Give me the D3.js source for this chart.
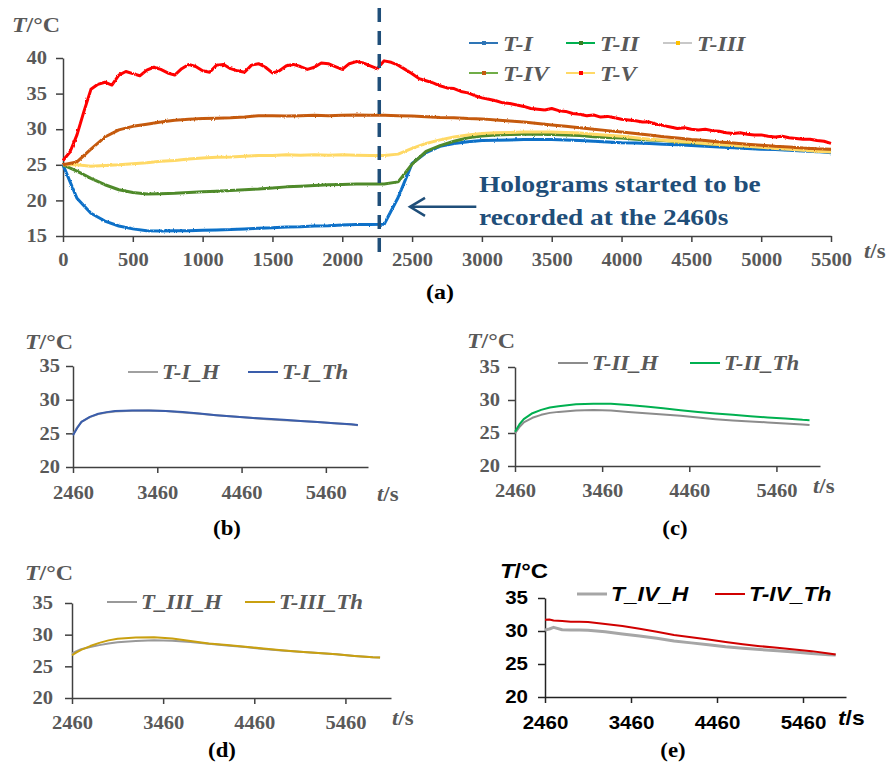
<!DOCTYPE html>
<html>
<head>
<meta charset="utf-8">
<script src="https://cdn.jsdelivr.net/npm/d3@7"></script>
<style>
  body { margin: 0; background: #fff; }
  svg { display: block; }
</style>
</head>
<body>
<svg width="888" height="769"></svg>
<script>
// ---- panel (a): temperatures of the five probes, sampled every 100 s ----
const timeA = [0, 100, 200, 300, 400, 500, 600, 700, 800, 900, 1000, 1100, 1200, 1300, 1400, 1500, 1600, 1700, 1800, 1900,
  2000, 2100, 2200, 2300, 2400, 2500, 2600, 2700, 2800, 2900, 3000, 3100, 3200, 3300, 3400, 3500, 3600, 3700, 3800, 3900,
  4000, 4100, 4200, 4300, 4400, 4500, 4600, 4700, 4800, 4900, 5000, 5100, 5200, 5300, 5400, 5500];
const tI = [25.0, 20.3, 18.2, 17.1, 16.4, 16.0, 15.75, 15.7, 15.75, 15.75, 15.8, 15.85, 15.9, 16.0, 16.1, 16.15, 16.25, 16.3, 16.4, 16.45,
  16.55, 16.6, 16.6, 16.65, 20.4, 25.2, 26.7, 27.6, 28.0, 28.25, 28.4, 28.45, 28.5, 28.55, 28.55, 28.55, 28.5, 28.4, 28.3, 28.2,
  28.1, 28.05, 28.0, 27.9, 27.8, 27.7, 27.6, 27.5, 27.4, 27.3, 27.2, 27.15, 27.05, 26.95, 26.85, 26.7];
const tII = [25.0, 24.1, 23.1, 22.2, 21.5, 21.1, 20.9, 20.95, 21.0, 21.1, 21.2, 21.3, 21.4, 21.5, 21.6, 21.75, 21.9, 22.0, 22.1, 22.2,
  22.25, 22.3, 22.3, 22.3, 22.6, 25.1, 26.9, 27.7, 28.3, 28.8, 29.05, 29.2, 29.25, 29.3, 29.3, 29.25, 29.2, 29.1, 28.95, 28.85,
  28.75, 28.6, 28.5, 28.4, 28.25, 28.1, 27.95, 27.85, 27.7, 27.6, 27.5, 27.4, 27.3, 27.2, 27.1, 27.0];
const tIII = [25.0, 25.0, 24.8, 24.9, 25.0, 25.15, 25.3, 25.5, 25.6, 25.8, 25.95, 26.05, 26.1, 26.2, 26.3, 26.3, 26.4, 26.35, 26.4, 26.35,
  26.4, 26.35, 26.3, 26.3, 26.5, 27.3, 28.0, 28.5, 28.9, 29.2, 29.4, 29.5, 29.55, 29.6, 29.6, 29.6, 29.55, 29.45, 29.3, 29.15,
  29.0, 28.8, 28.6, 28.45, 28.3, 28.15, 28.0, 27.85, 27.7, 27.6, 27.45, 27.3, 27.2, 27.05, 26.9, 26.8];
const tIV = [25.0, 25.4, 27.2, 28.9, 29.9, 30.4, 30.7, 31.0, 31.25, 31.4, 31.5, 31.55, 31.6, 31.7, 31.9, 31.9, 31.85, 31.9, 31.95, 31.9,
  31.95, 32.0, 31.95, 31.95, 31.9, 31.85, 31.75, 31.65, 31.6, 31.5, 31.45, 31.3, 31.15, 31.0, 30.8, 30.6, 30.4, 30.2, 30.0, 29.8,
  29.6, 29.4, 29.2, 28.95, 28.75, 28.55, 28.4, 28.2, 28.05, 27.9, 27.75, 27.6, 27.5, 27.35, 27.25, 27.2];
// T-V fluctuates a lot, so it is read every 50 s
const timeV = [0, 50, 100, 150, 200, 250, 300, 350, 400, 450, 500, 550, 600, 650, 700, 750, 800, 850, 900, 950,
  1000, 1050, 1100, 1150, 1200, 1250, 1300, 1350, 1400, 1450, 1500, 1550, 1600, 1650, 1700, 1750, 1800, 1850, 1900, 1950,
  2000, 2050, 2100, 2150, 2200, 2250, 2300, 2350, 2400, 2450, 2500, 2550, 2600, 2650, 2700, 2750, 2800, 2850, 2900, 2950,
  3000, 3050, 3100, 3150, 3200, 3250, 3300, 3350, 3400, 3450, 3500, 3550, 3600, 3650, 3700, 3750, 3800, 3850, 3900, 3950,
  4000, 4050, 4100, 4150, 4200, 4250, 4300, 4350, 4400, 4450, 4500, 4550, 4600, 4650, 4700, 4750, 4800, 4850, 4900, 4950,
  5000, 5050, 5100, 5150, 5200, 5250, 5300, 5350, 5400, 5450, 5500];
const tV = [25.6, 26.8, 29.2, 32.5, 35.6, 36.3, 36.6, 36.2, 37.6, 38.1, 37.8, 37.5, 38.3, 38.7, 38.4, 37.9, 37.6, 38.5, 39.1, 38.8,
  38.2, 38.0, 39.0, 39.1, 38.5, 38.2, 38.0, 39.0, 39.2, 38.7, 37.9, 38.2, 38.9, 39.1, 38.8, 38.4, 38.7, 39.3, 39.2, 38.8,
  38.4, 39.2, 39.5, 39.3, 38.9, 38.5, 39.6, 39.4, 39.0, 38.4, 37.8, 37.1, 36.8, 36.5, 36.1, 35.8, 35.7, 35.3, 35.1, 34.7,
  34.4, 34.2, 34.0, 33.7, 33.6, 33.4, 33.2, 32.9, 32.8, 32.7, 32.9, 32.6, 32.5, 32.2, 32.1, 31.9, 32.0, 31.7, 31.8, 31.6,
  31.4, 31.3, 31.2, 31.0, 31.0, 30.7, 30.5, 30.3, 30.1, 30.2, 30.0, 29.9, 30.0, 29.8, 29.7, 29.5, 29.4, 29.5, 29.3, 29.2,
  29.2, 29.0, 28.9, 29.0, 28.8, 28.7, 28.6, 28.6, 28.4, 28.3, 28.0];
const seriesNamesA = ['T-I', 'T-II', 'T-III', 'T-IV', 'T-V'];
const xTicksA = [0, 500, 1000, 1500, 2000, 2500, 3000, 3500, 4000, 4500, 5000, 5500];
const yTicksA = [15, 20, 25, 30, 35, 40];
const markTime = 2265; // dashed marker as drawn in the figure

// ---- panels (b)-(e): hologram (H) vs thermocouple (Th) after 2460 s ----
const timeSub = [2460, 2510, 2560, 2660, 2760, 2860, 2960, 3160, 3360, 3560, 3760, 3960, 4160, 4360, 4560, 4760, 4960, 5160,
  5360, 5560, 5760, 5840];
const bH = [24.8, 25.9, 26.7, 27.4, 27.85, 28.1, 28.25, 28.35, 28.4, 28.3, 28.1, 27.9, 27.7, 27.5, 27.3, 27.1, 26.95, 26.85, 26.7, 26.5, 26.3, 26.2];
const bTh = [24.7, 25.8, 26.7, 27.45, 27.9, 28.15, 28.3, 28.4, 28.4, 28.3, 28.15, 27.95, 27.7, 27.5, 27.3, 27.15, 27.0, 26.85, 26.7, 26.5, 26.35, 26.25];
const cH = [24.95, 25.9, 26.6, 27.3, 27.75, 28.05, 28.2, 28.4, 28.5, 28.4, 28.2, 28.0, 27.8, 27.6, 27.35, 27.1, 26.9, 26.75, 26.6, 26.45, 26.3, 26.2];
const cTh = [25.2, 26.3, 27.1, 28.0, 28.5, 28.85, 29.05, 29.35, 29.45, 29.45, 29.25, 29.0, 28.75, 28.45, 28.2, 27.95, 27.75, 27.55, 27.35, 27.2, 27.0, 26.95];
const dH = [27.05, 27.4, 27.7, 28.05, 28.35, 28.6, 28.8, 29.0, 29.1, 29.05, 28.85, 28.55, 28.3, 28.05, 27.75, 27.5, 27.3, 27.1, 26.9, 26.65, 26.45, 26.4];
const dTh = [26.75, 27.2, 27.6, 28.2, 28.7, 29.1, 29.35, 29.55, 29.6, 29.4, 29.0, 28.6, 28.35, 28.1, 27.8, 27.55, 27.3, 27.1, 26.9, 26.65, 26.45, 26.4];
const eH = [30.15, 30.3, 30.55, 30.2, 30.15, 30.15, 30.1, 29.9, 29.55, 29.25, 28.9, 28.5, 28.2, 27.9, 27.6, 27.4, 27.2, 27.0, 26.8, 26.6, 26.4, 26.35];
const eTh = [31.7, 31.75, 31.6, 31.5, 31.4, 31.4, 31.35, 31.05, 30.75, 30.35, 29.9, 29.4, 29.05, 28.7, 28.35, 28.0, 27.7, 27.45, 27.2, 26.95, 26.6, 26.45];
const xTicksSub = [2460, 3460, 4460, 5460];
const yTicksSub = [20, 25, 30, 35];

const svg = d3.select('svg');
const SX = 1.14; // the source figure is stretched a little horizontally
const SERIF = '"Liberation Serif", "Times New Roman", serif';
const SANS = '"Liberation Sans", Arial, sans-serif';

// slight jitter filter so the logged traces look like measured data
const defs = svg.append('defs');
const fz = defs.append('filter').attr('id', 'fuzz').attr('x', '-2%').attr('y', '-10%').attr('width', '104%').attr('height', '120%');
fz.append('feTurbulence').attr('type', 'fractalNoise').attr('baseFrequency', '0.9 0.35').attr('numOctaves', 1).attr('seed', 3).attr('result', 'n');
fz.append('feDisplacementMap').attr('in', 'SourceGraphic').attr('in2', 'n').attr('scale', 2.5)
  .attr('xChannelSelector', 'R').attr('yChannelSelector', 'G');

// text helper: bold, horizontally stretched
function label(x, y, o = {}) {
  return svg.append('text')
    .attr('transform', `translate(${x},${y}) scale(${SX},1)`)
    .attr('font-family', o.family || SERIF)
    .attr('font-size', o.size || 20)
    .attr('font-weight', 'bold')
    .attr('font-style', o.italic ? 'italic' : 'normal')
    .attr('fill', o.color || '#595959')
    .attr('text-anchor', o.anchor || 'start');
}
function unitLabel(x, y, sym, unit, o) {
  const t = label(x, y, o);
  t.append('tspan').attr('font-style', 'italic').text(sym);
  t.append('tspan').text(unit);
}

function drawAxes(x, y, xTicks, yTicks, o) {
  const col = o.color || '#595959';
  const gx = svg.append('g')
    .attr('transform', `translate(0,${y.range()[0]})`)
    .call(d3.axisBottom(x).tickValues(xTicks).tickSize(6).tickSizeOuter(0).tickPadding(o.xpad).tickFormat(d3.format('d')));
  const gy = svg.append('g')
    .attr('transform', `translate(${x.range()[0]},0)`)
    .call(d3.axisLeft(y).tickValues(yTicks).tickSize(7).tickSizeOuter(0).tickPadding(o.ypad));
  [gx, gy].forEach((g) => {
    g.select('.domain').attr('stroke', o.axis || '#404040').attr('stroke-width', 1.5);
    g.selectAll('.tick line').attr('stroke', o.axis || '#404040').attr('stroke-width', 1.5);
    g.selectAll('text')
      .attr('font-family', o.family || SERIF)
      .attr('font-size', o.size || 18)
      .attr('font-weight', 'bold')
      .attr('fill', col)
      .each(function () {
        const t = d3.select(this);
        t.attr('x', (+t.attr('x') || 0) / SX).attr('transform', `scale(${SX},1)`);
      });
  });
}

function drawLine(x, y, times, vals, color, width, fuzzy) {
  const p = svg.append('path')
    .datum(vals)
    .attr('fill', 'none')
    .attr('stroke', color)
    .attr('stroke-width', width)
    .attr('stroke-linejoin', 'round')
    .attr('d', d3.line().x((d, i) => x(times[i])).y((d) => y(d)));
  if (fuzzy) p.attr('filter', 'url(#fuzz)');
}

// ================= panel (a) =================
const xA = d3.scaleLinear().domain([0, 5500]).range([63, 831]);
const yA = d3.scaleLinear().domain([15, 40]).range([236, 58]);
drawAxes(xA, yA, xTicksA, yTicksA, { xpad: 11, ypad: 9, size: 18 });

const colorsA = ['#0a70c8', '#4f8a2b', '#ffd966', '#c55a11', '#ff0000'];
[tI, tII, tIII, tIV].forEach((s, i) => drawLine(xA, yA, timeA, s, colorsA[i], 3, true));
drawLine(xA, yA, timeV, tV, colorsA[4], 3, true);

// dashed marker
svg.append('line')
  .attr('x1', xA(markTime)).attr('x2', xA(markTime))
  .attr('y1', 8).attr('y2', yA.range()[0] + 20)
  .attr('stroke', '#1f4e79').attr('stroke-width', 3.5)
  .attr('stroke-dasharray', '14,9');

// annotation arrow + text
const arrowTip = [xA(2485), yA(19.1)];
const arrowTail = [xA(2960), yA(19.1)];
svg.append('line')
  .attr('x1', arrowTail[0]).attr('y1', arrowTail[1])
  .attr('x2', arrowTip[0] + 1).attr('y2', arrowTip[1])
  .attr('stroke', '#1f4e79').attr('stroke-width', 2.5);
svg.append('path')
  .attr('d', `M${arrowTip[0] + 15},${arrowTip[1] - 9} L${arrowTip[0]},${arrowTip[1]} L${arrowTip[0] + 15},${arrowTip[1] + 9}`)
  .attr('fill', 'none').attr('stroke', '#1f4e79').attr('stroke-width', 2.5);
label(479, 192, { size: 24, color: '#1f4e79' }).text('Holograms started to be');
label(479, 225, { size: 24, color: '#1f4e79' }).text('recorded at the 2460s');

// legend of (a)
const legA = [
  { name: seriesNamesA[0], x: 469, y: 43, line: '#2e75b6', dot: '#2e75b6' },
  { name: seriesNamesA[1], x: 566, y: 43, line: '#00b050', dot: '#3a7d22' },
  { name: seriesNamesA[2], x: 663, y: 43, line: '#c8c8c8', dot: '#ffc000' },
  { name: seriesNamesA[3], x: 469, y: 73, line: '#70ad47', dot: '#c55a11' },
  { name: seriesNamesA[4], x: 566, y: 73, line: '#ffd966', dot: '#ff0000' },
];
legA.forEach((d) => {
  svg.append('line').attr('x1', d.x).attr('x2', d.x + 29).attr('y1', d.y).attr('y2', d.y)
    .attr('stroke', d.line).attr('stroke-width', 2);
  svg.append('rect').attr('x', d.x + 13).attr('y', d.y - 2).attr('width', 4).attr('height', 4).attr('fill', d.dot);
  label(d.x + 34, d.y + 7.5, { size: 21, italic: true }).text(d.name);
});

unitLabel(12, 32, 'T', '/°C', { size: 21 });
unitLabel(864, 258, 't', '/s', { size: 20 });
label(440, 299, { size: 21, color: '#000', anchor: 'middle' }).text('(a)');

// ================= sub panels =================
const panels = [
  { id: '(b)', x0: 73, x1: 368, y0: 467, y1: 366, H: bH, Th: bTh, thColor: '#3a5dab', hColor: '#a0a0a0', hW: 2,
    names: ['T-I_H', 'T-I_Th'], leg: [128, 248], legY: 372, unit: [25, 349], ts: [377, 501], letter: [227, 535],
    xpad: 13, ypad: 6 },
  { id: '(c)', x0: 515, x1: 820, y0: 466, y1: 367, H: cH, Th: cTh, thColor: '#00b050', hColor: '#8c8c8c', hW: 2,
    names: ['T-II_H', 'T-II_Th'], leg: [558, 690], legY: 363, unit: [467, 348], ts: [813, 493], letter: [675, 535],
    xpad: 12, ypad: 8 },
  { id: '(d)', x0: 72, x1: 391, y0: 698, y1: 603, H: dH, Th: dTh, thColor: '#c9a010', hColor: '#999999', hW: 2,
    names: ['T_III_H', 'T-III_Th'], leg: [107, 245], legY: 602, unit: [25, 580], ts: [392, 725], letter: [222, 757],
    xpad: 12, ypad: 12 },
  { id: '(e)', x0: 545, x1: 846, y0: 697, y1: 598, H: eH, Th: eTh, thColor: '#d00000', hColor: '#a6a6a6', hW: 3,
    names: ['T_IV_H', 'T-IV_Th'], leg: [577, 715], legY: 594, unit: [500, 578], ts: [838, 725], letter: [673, 757],
    xpad: 13, ypad: 10, sans: true },
];

panels.forEach((p) => {
  const x = d3.scaleLinear().domain([2460, 5960]).range([p.x0, p.x1]);
  const y = d3.scaleLinear().domain([20, 35]).range([p.y0, p.y1]);
  const fam = p.sans ? SANS : SERIF;
  const txt = p.sans ? '#000' : '#595959';
  drawAxes(x, y, xTicksSub, yTicksSub, {
    xpad: p.xpad, ypad: p.ypad, size: 18, family: fam, color: txt, axis: p.sans ? '#222' : '#404040',
  });
  drawLine(x, y, timeSub, p.H, p.hColor, p.hW, false);
  drawLine(x, y, timeSub, p.Th, p.thColor, 2, false);

  [[p.hColor, p.hW], [p.thColor, 2]].forEach(([c, w], i) => {
    svg.append('line').attr('x1', p.leg[i]).attr('x2', p.leg[i] + 30).attr('y1', p.legY).attr('y2', p.legY)
      .attr('stroke', c).attr('stroke-width', w);
    label(p.leg[i] + 34, p.legY + 7, { size: 20, italic: true, family: fam, color: txt }).text(p.names[i]);
  });
  unitLabel(p.unit[0], p.unit[1], 'T', '/°C', { size: 21, family: fam, color: txt });
  unitLabel(p.ts[0], p.ts[1], 't', '/s', { size: 20, family: fam, color: txt });
  label(p.letter[0], p.letter[1], { size: 20, color: '#000', anchor: 'middle' }).text(p.id);
});
</script>
</body>
</html>
